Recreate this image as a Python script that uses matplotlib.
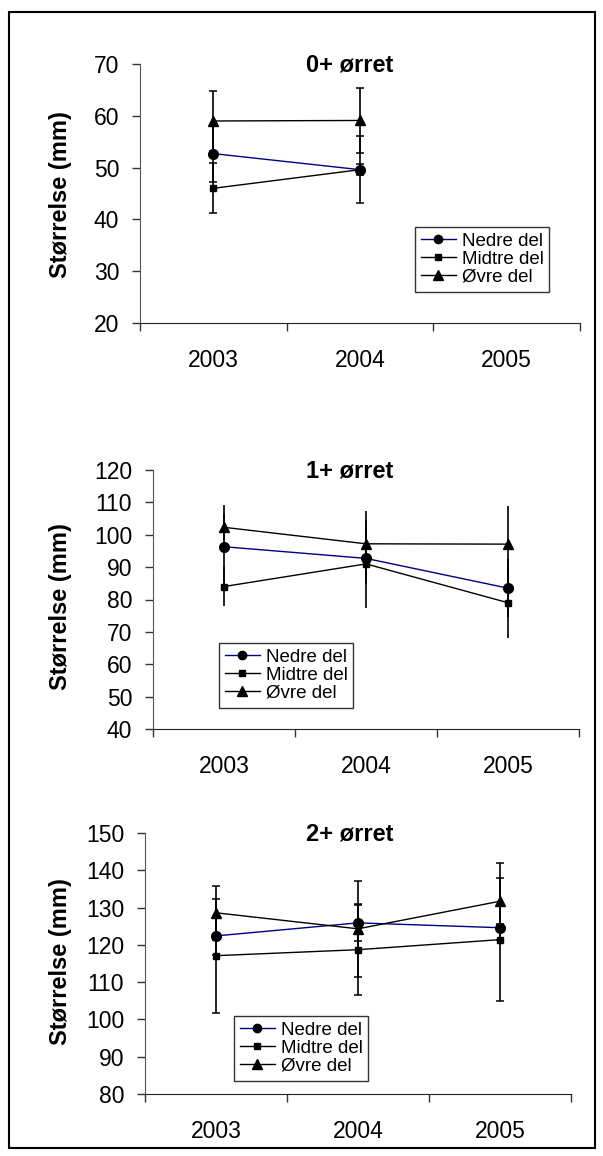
import numpy as np
import matplotlib
matplotlib.use('Agg')
import matplotlib.pyplot as plt
from matplotlib.patches import Rectangle
from matplotlib.lines import Line2D

plt.rcParams['font.family'] = ['Liberation Sans', 'DejaVu Sans']

years = ['2003', '2004', '2005']
series_names = ['Nedre del', 'Midtre del', 'Øvre del']

# 0+ ørret (no 2005 sample)
nedre_0 = [52.7, 49.6, np.nan]
midtre_0 = [46.0, 49.6, np.nan]
ovre_0 = [59.0, 59.1, np.nan]
nedre_0_sd = [5.4, 6.5, np.nan]
midtre_0_sd = [4.8, 1.0, np.nan]
ovre_0_sd = [5.7, 6.3, np.nan]

# 1+ ørret
nedre_1 = [96.3, 92.7, 83.5]
midtre_1 = [84.0, 91.0, 79.0]
ovre_1 = [102.3, 97.2, 97.1]
nedre_1_sd = [12.9, 8.0, 9.0]
midtre_1_sd = [6.0, 13.6, 10.9]
ovre_1_sd = [4.0, 10.1, 11.9]

# 2+ ørret
nedre_2 = [122.4, 125.9, 124.6]
midtre_2 = [117.1, 118.7, 121.4]
ovre_2 = [128.6, 124.3, 131.7]
nedre_2_sd = [5.0, 4.8, 1.0]
midtre_2_sd = [15.3, 12.2, 16.5]
ovre_2_sd = [7.3, 12.9, 10.3]

W, H = 603, 1156
fig = plt.figure(figsize=(W / 100, H / 100), dpi=100)


def fx(px):
    return px / W


def fy(py):
    return 1 - py / H


# outer frame
fig.patches.append(Rectangle((fx(9), fy(1148)), fx(595) - fx(9), fy(12) - fy(1148),
                             transform=fig.transFigure, fill=False, lw=1.5, ec='black'))

line_colors = ['#000080', 'black', 'black']
markers = ['o', 's', '^']
msizes = [7, 5, 7.5]

panels = [
    dict(box=(140, 580, 64, 323), ylim=(20, 70), step=10, title='0+ ørret',
         vals=[nedre_0, midtre_0, ovre_0], sds=[nedre_0_sd, midtre_0_sd, ovre_0_sd],
         cap=3, leg=(415, 227), lab_y=195),
    dict(box=(153, 579, 470, 729), ylim=(40, 120), step=10, title='1+ ørret',
         vals=[nedre_1, midtre_1, ovre_1], sds=[nedre_1_sd, midtre_1_sd, ovre_1_sd],
         cap=0, leg=(219, 643), lab_y=607),
    dict(box=(145, 571, 833, 1094), ylim=(80, 150), step=10, title='2+ ørret',
         vals=[nedre_2, midtre_2, ovre_2], sds=[nedre_2_sd, midtre_2_sd, ovre_2_sd],
         cap=3, leg=(234, 1016), lab_y=962),
]

for p in panels:
    x0, x1, y0, y1 = p['box']
    ax = fig.add_axes([fx(x0), fy(y1), fx(x1) - fx(x0), fy(y0) - fy(y1)])
    x = np.arange(len(years)) + 0.5
    for vals, sds, c, m, ms in zip(p['vals'], p['sds'], line_colors, markers, msizes):
        ax.errorbar(x, vals, yerr=sds, fmt='none', ecolor='black', elinewidth=1.2,
                    capsize=p['cap'], capthick=1.1, zorder=2)
        ax.plot(x, vals, color=c, lw=1.0, marker=m, ms=ms, mfc='black', mec='black',
                zorder=3)
    ax.set_xlim(0, 3)
    ax.set_ylim(*p['ylim'])
    ax.set_yticks(np.arange(p['ylim'][0], p['ylim'][1] + 1, p['step']))
    ax.set_xticks([0, 1, 2, 3])
    ax.set_xticklabels([])
    ax.set_xticks(x, minor=True)
    ax.set_xticklabels(years, minor=True)
    ax.tick_params(axis='x', which='minor', length=0, pad=19, labelsize=16.5)
    ax.tick_params(axis='x', which='major', length=6, width=1, color='#333333')
    ax.tick_params(axis='y', length=6, width=1, pad=9, labelsize=16.5, color='#333333')
    for s in ['top', 'right']:
        ax.spines[s].set_visible(False)
    ax.spines['left'].set_color('#555555')
    ax.spines['bottom'].set_color('#222222')
    ax.patch.set_alpha(0)

    fig.text(fx(350), fy((y0 + 1)), p['title'], ha='center', va='center',
             fontsize=17, fontweight='bold')
    fig.text(fx(60), fy(p['lab_y']), 'Størrelse (mm)', rotation=90, ha='center',
             va='center', fontsize=17, fontweight='bold')

    handles = [Line2D([], [], color=c, lw=1.0, marker=m, ms=ms - 1, mfc='black', mec='black')
               for c, m, ms in zip(line_colors, markers, msizes)]
    lx, ly = p['leg']
    leg = fig.legend(handles, series_names, loc='upper left',
                     bbox_to_anchor=(fx(lx), fy(ly)), bbox_transform=fig.transFigure,
                     fontsize=13.5, frameon=True, fancybox=False, handlelength=1.9,
                     handletextpad=0.3, borderpad=0.3, labelspacing=0.05,
                     borderaxespad=0)
    leg.get_frame().set_edgecolor('black')
    leg.get_frame().set_linewidth(1.0)

fig.savefig('out.png', dpi=100)
